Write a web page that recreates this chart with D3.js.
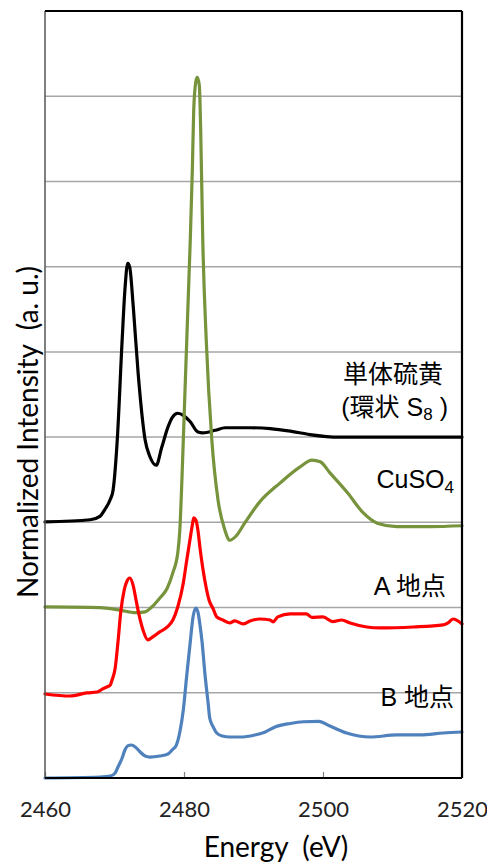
<!DOCTYPE html>
<html><head><meta charset="utf-8">
<script src="https://cdn.jsdelivr.net/npm/d3@7"></script>
<style>body{margin:0;background:#fff}svg{display:block}</style>
</head><body>
<svg id="c" width="487" height="866"></svg>
<script>
const xTicks = [2460, 2480, 2500, 2520];
const gridLevels = [1, 2, 3, 4, 5, 6, 7, 8];

const sulfurE = [2460,2466.5,2467.9,2468.6,2469.4,2469.8,2470.4,2471.1,2471.5,2471.9,2472.2,2472.7,2473.4,2474.4,2475.1,2476.0,2476.8,2477.7,2478.3,2479.1,2480.0,2480.9,2482.0,2482.7,2484.5,2485.9,2489.5,2492.4,2495.3,2498.1,2502.4,2506.8,2514.0,2520];
const sulfurV = [3.005,3.03,3.07,3.15,3.27,3.38,3.97,5.14,5.73,6.04,5.99,5.53,4.75,3.97,3.77,3.67,3.88,4.12,4.23,4.28,4.25,4.18,4.06,4.05,4.08,4.11,4.11,4.10,4.07,4.03,4.00,4.00,4.00,4.00];

const cuso4E = [2460,2467.9,2470.8,2473.0,2474.4,2475.4,2476.5,2477.6,2478.4,2479.1,2479.4,2479.7,2480.1,2480.6,2480.9,2481.2,2481.4,2481.7,2481.9,2482.2,2482.4,2482.7,2483.2,2484.0,2484.9,2485.8,2486.6,2487.5,2488.8,2490.9,2493.8,2496.7,2498.4,2499.6,2501.0,2503.5,2505.8,2507.8,2510.6,2515.4,2520];
const cuso4V = [2.007,2.0,1.97,1.94,1.95,2.01,2.11,2.23,2.41,2.64,2.91,3.50,4.44,5.61,6.31,7.14,7.84,8.17,8.22,8.13,7.61,6.31,5.14,3.97,3.26,2.93,2.79,2.84,3.00,3.24,3.46,3.65,3.73,3.71,3.58,3.35,3.11,2.99,2.95,2.95,2.96];

const siteAE = [2460,2463.6,2466.0,2467.5,2468.3,2468.9,2469.4,2469.6,2470.1,2470.5,2470.9,2471.4,2471.8,2472.2,2472.7,2473.1,2473.5,2474.1,2474.8,2475.5,2476.5,2477.6,2478.4,2479.1,2479.9,2480.4,2480.9,2481.2,2481.4,2481.7,2482.0,2482.3,2482.7,2483.2,2483.6,2484.2,2484.7,2485.6,2486.6,2487.3,2488.5,2489.5,2490.9,2492.4,2492.8,2493.5,2495.3,2497.6,2498.4,2500.0,2501.4,2502.7,2503.9,2506.3,2508.2,2513.0,2517.3,2518.0,2518.7,2520];
const siteAV = [0.986,0.962,0.998,1.009,1.045,1.068,1.092,1.138,1.291,1.596,1.948,2.207,2.312,2.347,2.254,2.089,1.925,1.737,1.620,1.655,1.714,1.772,1.854,2.007,2.289,2.559,2.817,2.969,3.052,3.028,2.911,2.700,2.465,2.230,2.089,1.984,1.890,1.854,1.819,1.843,1.808,1.843,1.866,1.854,1.831,1.890,1.925,1.925,1.885,1.890,1.835,1.854,1.819,1.772,1.761,1.772,1.796,1.82,1.866,1.808];

const siteBE = [2460,2467.9,2469.4,2470.1,2470.5,2471.1,2471.5,2471.9,2472.4,2473.0,2473.7,2474.4,2475.1,2476.5,2477.7,2478.3,2478.9,2479.4,2479.9,2480.4,2480.9,2481.3,2481.7,2482.0,2482.3,2482.6,2483.0,2483.5,2483.7,2484.2,2484.7,2485.5,2486.6,2488.1,2490.2,2491.7,2493.1,2495.3,2497.2,2499.4,2501.0,2503.4,2506.8,2510.6,2514.0,2517.3,2520];
const siteBV = [0,0.012,0.023,0.059,0.129,0.235,0.329,0.376,0.387,0.364,0.305,0.258,0.246,0.258,0.282,0.329,0.387,0.540,0.798,1.209,1.596,1.890,1.995,1.948,1.796,1.596,1.232,0.857,0.704,0.599,0.528,0.493,0.481,0.481,0.505,0.540,0.599,0.640,0.660,0.665,0.610,0.528,0.481,0.505,0.505,0.528,0.540];

const series = [
  {name: "sulfur", E: sulfurE, V: sulfurV, color: "#000000"},
  {name: "cuso4", E: cuso4E, V: cuso4V, color: "#77933c"},
  {name: "siteA", E: siteAE, V: siteAV, color: "#ff0000"},
  {name: "siteB", E: siteBE, V: siteBV, color: "#4f81bd"}
];

const L = 45, R = 462, T = 11, B = 778;
const svg = d3.select("#c");
const x = d3.scaleLinear().domain([2460, 2520]).range([L, R]);
const y = d3.scaleLinear().domain([0, 9]).range([B, T]);

// gridlines
svg.append("g").selectAll("line").data(gridLevels).join("line")
  .attr("x1", L).attr("x2", R)
  .attr("y1", d => y(d)).attr("y2", d => y(d))
  .attr("stroke", "#a6a6a6").attr("stroke-width", 1.5);

// x axis
const ax = svg.append("g").attr("transform", `translate(0,${B})`)
  .call(d3.axisBottom(x).tickValues(xTicks).tickSizeInner(-6).tickSizeOuter(0).tickPadding(23).tickFormat(d3.format("d")));
ax.select(".domain").remove();
ax.selectAll(".tick line").attr("stroke", "#808080").attr("stroke-width", 1.2);
ax.selectAll(".tick text").attr("font-family", "Lato, 'Open Sans', sans-serif").attr("font-size", 22).attr("fill", "#222");

// curves
const line = d3.line().x(d => x(d[0])).y(d => y(d[1])).curve(d3.curveMonotoneX);
svg.append("g").selectAll("path").data(series).join("path")
  .attr("d", s => line(s.E.map((e, i) => [e, s.V[i]])))
  .attr("fill", "none").attr("stroke", s => s.color)
  .attr("stroke-width", 3.2).attr("stroke-linejoin", "round").attr("stroke-linecap", "round");

// frame
svg.append("line").attr("x1", L).attr("x2", L).attr("y1", T).attr("y2", B).attr("stroke", "#555").attr("stroke-width", 1.5);
svg.append("line").attr("x1", L).attr("x2", R).attr("y1", T).attr("y2", T).attr("stroke", "#000").attr("stroke-width", 2.2);
svg.append("line").attr("x1", R).attr("x2", R).attr("y1", T).attr("y2", B).attr("stroke", "#000").attr("stroke-width", 2.2);
svg.append("line").attr("x1", L).attr("x2", R).attr("y1", B).attr("y2", B).attr("stroke", "#000").attr("stroke-width", 2.2);

// labels
const lf = "'Liberation Sans', Arial, 'Noto Sans CJK JP', sans-serif";
const lab = (tx, ty) => svg.append("text").attr("x", tx).attr("y", ty)
  .attr("text-anchor", "end").attr("font-family", lf).attr("font-size", 25).attr("fill", "#000");
lab(443, 383).text("単体硫黄");
const l2 = lab(448, 416);
l2.append("tspan").text("(環状 S");
l2.append("tspan").attr("font-size", 17).attr("dy", 4).text("8");
l2.append("tspan").attr("dy", -4).text(" )");
const l3 = lab(454, 488);
l3.append("tspan").text("CuSO");
l3.append("tspan").attr("font-size", 17).attr("dy", 5).text("4");
lab(446, 595).text("A 地点");
lab(454, 706).text("B 地点");

// axis titles
const tf = "Lato, 'Open Sans', sans-serif";
svg.append("text").attr("x", 276).attr("y", 857).attr("text-anchor", "middle")
  .attr("font-family", tf).attr("font-size", 28).attr("fill", "#000").attr("xml:space", "preserve")
  .text("Energy  (eV)");
svg.append("text").attr("transform", "translate(38,432) rotate(-90)").attr("text-anchor", "middle")
  .attr("font-family", tf).attr("font-size", 28).attr("fill", "#000").attr("xml:space", "preserve")
  .text("Normalized Intensity  (a. u.)");
</script>
</body></html>
